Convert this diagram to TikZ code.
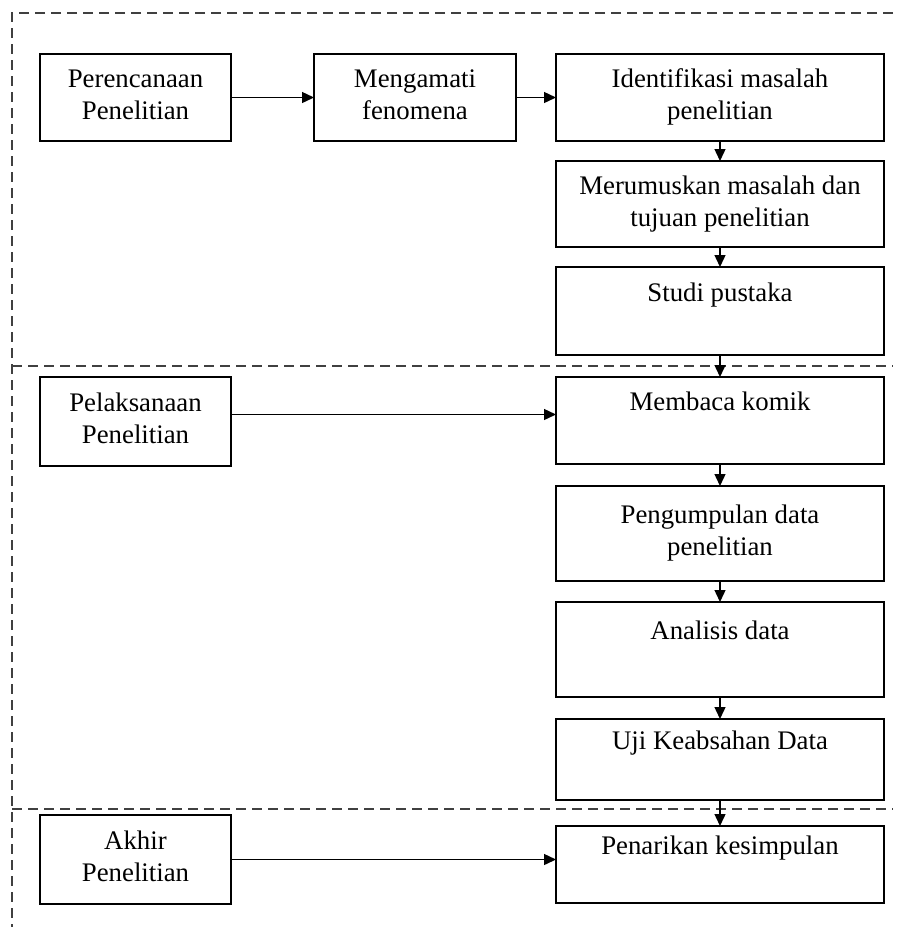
\documentclass[tikz,border=0pt]{standalone}
\usepackage{fontspec}
\setmainfont{Liberation Serif}
\usetikzlibrary{arrows.meta, positioning}
\tikzset{
  tahap/.style={
    rectangle, draw=black, line width=0.75pt, fill=white, text=black,
    align=center, inner sep=0pt, outer sep=0pt, font=\fontsize{13.4}{16}\selectfont},
  kiri/.style={tahap, minimum width=95.5pt, minimum height=44.5pt},
  kanan/.style={tahap, minimum width=164pt},
  panah/.style={-{Triangle[length=6pt,width=5.5pt]}, line width=0.7pt, draw=black},
  batas/.style={draw=black!75, line width=0.8pt, dash pattern=on 5pt off 3pt},
}

\begin{document}
\begin{tikzpicture}[node distance=10pt]
  \useasboundingbox (0,0) rectangle (449pt,-463.5pt);
  % garis putus-putus pembagi tahap
  \draw[batas] (446.5pt,-6.5pt) -- (6pt,-6.5pt) -- (6pt,-463.5pt);
  \draw[batas] (6pt,-183pt) -- (446.5pt,-183pt);
  \draw[batas] (6pt,-404.5pt) -- (446.5pt,-404.5pt);

  % tahap perencanaan
  \node[kiri, minimum height=43.5pt, anchor=north west] (per) at (20pt,-27pt) {\strut Perencanaan\\\strut Penelitian};
  \node[tahap, minimum width=101pt, minimum height=43.5pt, right=41.5pt of per] (men) {\strut Mengamati\\\strut fenomena};
  \node[kanan, minimum height=43.5pt, right=20pt of men] (ide) {\strut Identifikasi masalah\\\strut penelitian};
  \node[kanan, minimum height=43pt, below=of ide] (rum) {\strut Merumuskan masalah dan\\\strut tujuan penelitian};
  \node[kanan, minimum height=44pt, below=of rum] (stu) {\strut Studi pustaka\\\strut};

  % tahap pelaksanaan
  \node[kanan, minimum height=43.5pt, below=11pt of stu] (mem) {\strut Membaca komik\\\strut};
  \node[kanan, minimum height=47.5pt, below=11pt of mem] (pen) {\strut Pengumpulan data\\\strut penelitian};
  \node[kanan, minimum height=47.5pt, below=10.5pt of pen] (ana) {\strut Analisis data\\\strut};
  \node[kanan, minimum height=40.5pt, below=11pt of ana] (uji) {\strut Uji Keabsahan Data\\\strut};
  \node[kiri, anchor=north] (pel) at (per.north |- mem.north) {\strut Pelaksanaan\\\strut Penelitian};

  % tahap akhir
  \node[kanan, minimum height=38.5pt, below=13pt of uji] (tar) {\strut Penarikan kesimpulan\\\strut};
  \node[kiri, anchor=north] (akh) at ([yshift=5.5pt]per.north |- tar.north) {\strut Akhir\\\strut Penelitian};

  \draw[panah] (per) -- (men);
  \draw[panah] (men) -- (ide);
  \draw[panah] (ide) -- (rum);
  \draw[panah] (rum) -- (stu);
  \draw[panah] (stu) -- (mem);
  \draw[panah] (mem) -- (pen);
  \draw[panah] (pen) -- (ana);
  \draw[panah] (ana) -- (uji);
  \draw[panah] (uji) -- (tar);
  \draw[panah] ([yshift=3.5pt]pel.east) -- ([yshift=3.5pt]pel.east -| mem.west);
  \draw[panah] (akh.east) -- (akh.east -| tar.west);
\end{tikzpicture}
\end{document}
